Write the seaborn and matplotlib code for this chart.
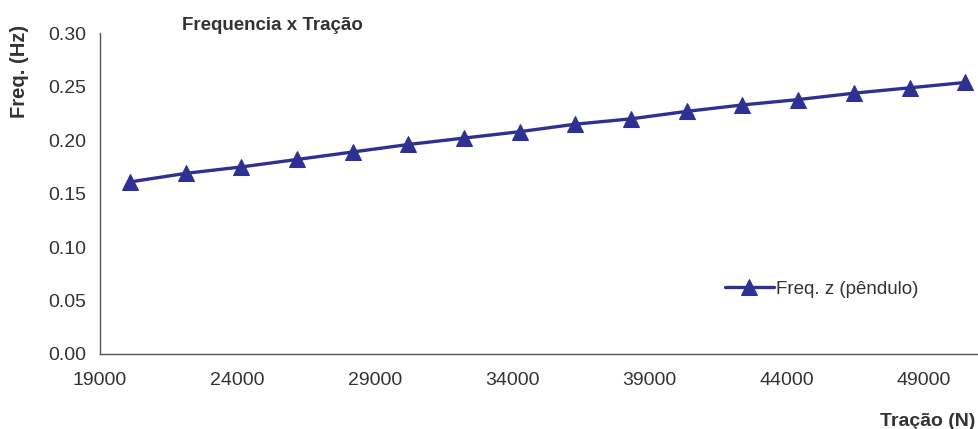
"""
Frequencia x Tracao - pendulum frequency vs cable traction
"""

import numpy as np
import pandas as pd
import matplotlib
matplotlib.use("Agg")
import matplotlib.pyplot as plt
import seaborn as sns

# ============ DATA ============
tracao = [20100, 22130, 24150, 26180, 28210, 30230, 32260, 34290,
          36310, 38340, 40370, 42390, 44420, 46450, 48470, 50500]
freq_z = [0.161, 0.169, 0.175, 0.182, 0.189, 0.196, 0.202, 0.208,
          0.215, 0.220, 0.227, 0.233, 0.238, 0.244, 0.249, 0.254]
x_ticks = [19000, 24000, 29000, 34000, 39000, 44000, 49000]
y_ticks = [0.00, 0.05, 0.10, 0.15, 0.20, 0.25, 0.30]
series_label = "Freq. z (pêndulo)"

# ============ STYLE ============
NAVY = "#2E3192"
TEXT = "#333333"
AXIS = "#555555"

sns.set_style("white")
plt.rcParams['font.family'] = ['Liberation Sans', 'DejaVu Sans']

df = pd.DataFrame({"tracao": tracao, "freq": freq_z})

fig = plt.figure(figsize=(9.79, 4.29), dpi=100)
ax = fig.add_axes([100 / 979, 1 - 354 / 429, 879 / 979, (354 - 33.3) / 429])

sns.lineplot(data=df, x="tracao", y="freq", ax=ax, color=NAVY,
             linewidth=2.4, marker="^", markersize=12,
             markeredgecolor=NAVY, label=series_label)

ax.set_xlim(19000, 51000)
ax.set_ylim(0, 0.30)
ax.set_xticks(x_ticks)
ax.set_yticks(y_ticks)
ax.set_yticklabels([f"{v:.2f}" for v in y_ticks])
ax.set_xlabel("")
ax.set_ylabel("")

for side in ["top", "right"]:
    ax.spines[side].set_visible(False)
for side in ["left", "bottom"]:
    ax.spines[side].set_color(AXIS)
    ax.spines[side].set_linewidth(1.0)

ax.tick_params(axis="both", labelsize=14, colors=AXIS, labelcolor=TEXT,
               length=5, width=1.0, direction="out")
ax.tick_params(axis="x", pad=8)
ax.tick_params(axis="y", pad=5)
ax.grid(False)

leg = ax.legend(loc="center left", bbox_to_anchor=(725 / 979, 1 - 289 / 429),
                bbox_transform=fig.transFigure, frameon=False, fontsize=13.5,
                handlelength=2.6, handletextpad=0.1, borderpad=0, borderaxespad=0)
for t in leg.get_texts():
    t.set_color(TEXT)

# titles
fig.text(182 / 979, 1 - 26 / 429, "Frequencia x Tração", fontsize=13.5,
         fontweight="bold", color=TEXT, ha="left", va="center")
fig.text(20 / 979, 1 - 71 / 429, "Freq. (Hz)", fontsize=14.5,
         fontweight="bold", color=TEXT, ha="center", va="center", rotation=90)
fig.text(975 / 979, 1 - 421 / 429, "Tração (N)", fontsize=14,
         fontweight="bold", color=TEXT, ha="right", va="center")

fig.savefig("out.png", dpi=100)
